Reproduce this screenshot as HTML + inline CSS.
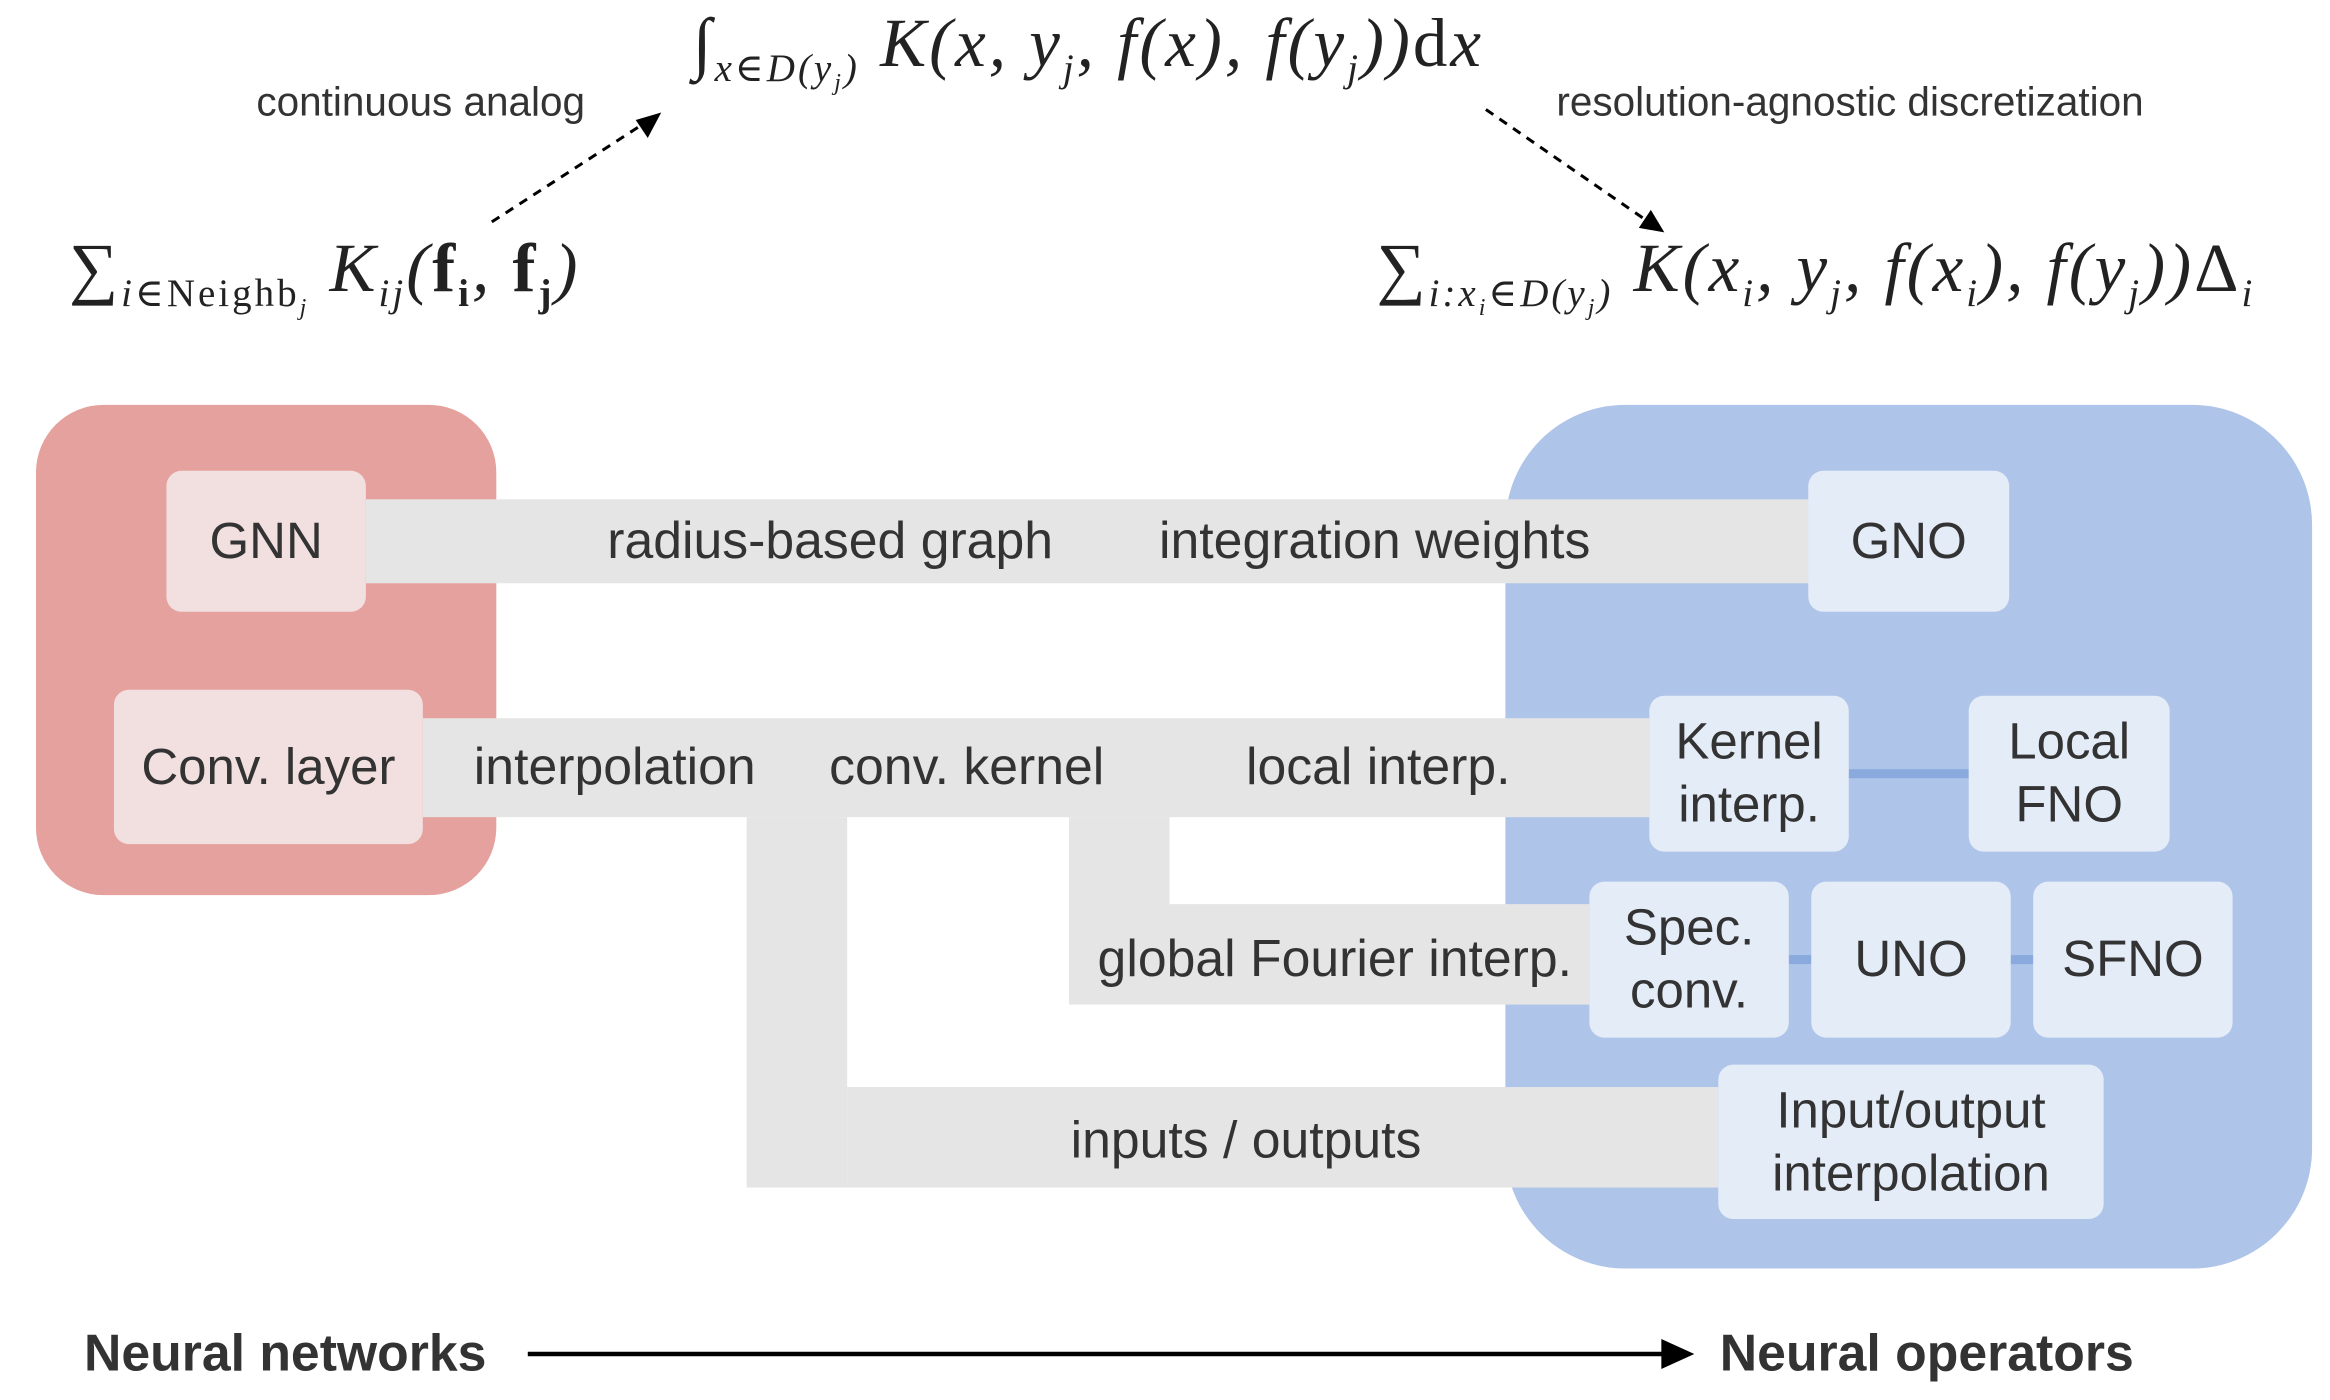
<!DOCTYPE html>
<html><head><meta charset="utf-8"><style>
html,body{margin:0;padding:0;background:#fff;}
body{width:2330px;height:1400px;overflow:hidden;position:relative;}
#w{position:absolute;left:0;top:0;width:1554px;height:934px;transform:scale(1.4994);transform-origin:0 0;font-family:"Liberation Sans",sans-serif;color:#333;}
.a{position:absolute;}
.g{position:absolute;background:#e5e5e5;}
.n{position:absolute;border-radius:10px;display:flex;align-items:center;justify-content:center;text-align:center;font-size:34px;line-height:42px;color:#333;}
.p{background:#f2dfdf;}
.b{background:#e4ecf8;}
.t{position:absolute;font-size:34.5px;color:#333;white-space:nowrap;line-height:40px;}
.m{position:absolute;font-family:"Liberation Serif","DejaVu Serif",serif;font-style:italic;color:#222;white-space:nowrap;font-size:46px;letter-spacing:2px;}
.m sub{font-size:26px;}
.m .r{font-style:normal;}
.c{position:absolute;background:#8aa9dc;}
</style></head><body><div id="w">
<div class="a" style="left:24px;top:270px;width:307px;height:327px;background:#e5a19d;border-radius:45px;"></div>
<div class="a" style="left:1004px;top:270px;width:538px;height:576px;background:#aec4e9;border-radius:80px;"></div>

<div class="g" style="left:244px;top:333px;width:963px;height:56px;"></div>
<div class="g" style="left:282px;top:479px;width:818px;height:66px;"></div>
<div class="g" style="left:498px;top:545px;width:67px;height:247px;"></div>
<div class="g" style="left:565px;top:725px;width:581px;height:67px;"></div>
<div class="g" style="left:713px;top:545px;width:67px;height:125px;"></div>
<div class="g" style="left:780px;top:603px;width:280px;height:67px;"></div>

<div class="c" style="left:1233px;top:513px;width:80px;height:6px;"></div>
<div class="c" style="left:1193px;top:637px;width:15px;height:6px;"></div>
<div class="c" style="left:1341px;top:637px;width:15px;height:6px;"></div>

<div class="n p" style="left:111px;top:314px;width:133px;height:94px;">GNN</div>
<div class="n p" style="left:76px;top:460px;width:206px;height:103px;">Conv. layer</div>
<div class="n b" style="left:1206px;top:314px;width:134px;height:94px;">GNO</div>
<div class="n b" style="left:1100px;top:464px;width:133px;height:104px;">Kernel<br>interp.</div>
<div class="n b" style="left:1313px;top:464px;width:134px;height:104px;">Local<br>FNO</div>
<div class="n b" style="left:1060px;top:588px;width:133px;height:104px;">Spec.<br>conv.</div>
<div class="n b" style="left:1208px;top:588px;width:133px;height:104px;">UNO</div>
<div class="n b" style="left:1356px;top:588px;width:133px;height:104px;">SFNO</div>
<div class="n b" style="left:1146px;top:710px;width:257px;height:103px;">Input/output<br>interpolation</div>

<div class="t" style="left:405px;top:341px;">radius-based graph</div>
<div class="t" style="left:773px;top:341px;">integration weights</div>
<div class="t" style="left:316px;top:492px;">interpolation</div>
<div class="t" style="left:553px;top:492px;">conv. kernel</div>
<div class="t" style="left:831px;top:492px;">local interp.</div>
<div class="t" style="left:732px;top:620px;">global Fourier interp.</div>
<div class="t" style="left:714px;top:741px;">inputs / outputs</div>

<div class="t" style="left:56px;top:883px;font-weight:bold;">Neural networks</div>
<div class="t" style="left:1147px;top:883px;font-weight:bold;">Neural operators</div>
<svg class="a" style="left:0;top:0" width="1554" height="934">
<line x1="352" y1="903" x2="1112" y2="903" stroke="#000" stroke-width="3"/>
<polygon points="1130,903 1108,893 1108,913" fill="#000"/>
<line x1="328" y1="148" x2="430" y2="82" stroke="#000" stroke-width="2" stroke-dasharray="6,5"/>
<polygon points="441,75 424,80 432,92" fill="#000"/>
<line x1="991" y1="73" x2="1098" y2="147" stroke="#000" stroke-width="2" stroke-dasharray="6,5"/>
<polygon points="1110,155 1093,152 1101,140" fill="#000"/>
</svg>

<div class="t" style="left:171px;top:48px;font-size:27px;">continuous analog</div>
<div class="t" style="left:1038px;top:48px;font-size:27px;">resolution-agnostic discretization</div>

<div class="m" style="left:462px;top:2px;"><span class="r">∫</span><sub>x∈D(y<sub style="font-size:16px">j</sub>)</sub> K(x, y<sub>j</sub>, f(x), f(y<sub>j</sub>))<span class="r">d</span>x</div>
<div class="m" style="left:46px;top:152px;"><span class="r">∑</span><sub>i∈<span class="r">Neighb</span><sub style="font-size:16px">j</sub></sub> K<sub>ij</sub>(<b class="r">f<sub>i</sub></b>, <b class="r">f<sub>j</sub></b>)</div>
<div class="m" style="left:918px;top:152px;"><span class="r">∑</span><sub>i:x<sub style="font-size:16px">i</sub>∈D(y<sub style="font-size:16px">j</sub>)</sub> K(x<sub>i</sub>, y<sub>j</sub>, f(x<sub>i</sub>), f(y<sub>j</sub>))<span class="r">Δ</span><sub>i</sub></div>
</div></body></html>
